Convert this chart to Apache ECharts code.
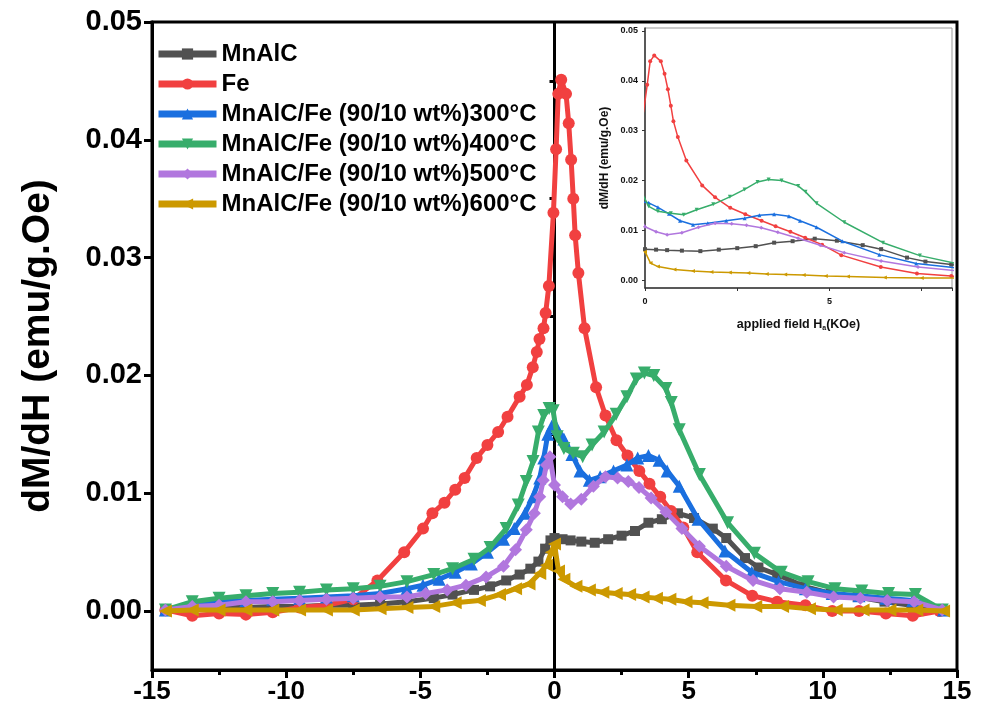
<!DOCTYPE html>
<html><head><meta charset="utf-8">
<script src="https://cdn.jsdelivr.net/npm/echarts@6/dist/echarts.min.js"></script>
<style>html,body{margin:0;padding:0;background:#fff}#c{width:982px;height:718px}</style>
</head><body><div id="c"></div>
<script>
const seriesNames = ['MnAlC', 'Fe', 'MnAlC/Fe (90/10 wt%)300°C', 'MnAlC/Fe (90/10 wt%)400°C', 'MnAlC/Fe (90/10 wt%)500°C', 'MnAlC/Fe (90/10 wt%)600°C'];
const seriesColors = ['#515151', '#F14040', '#1A6FDF', '#37AD6B', '#B177DE', '#CC9900'];

const mnalcX = [-14.5,-13.5,-12.5,-11.5,-10.5,-9.5,-8.5,-7.5,-6.5,-5.5,-4.5,-3.8,-3.0,-2.4,-1.8,-1.3,-0.9,-0.6,-0.35,-0.15,0,0.3,0.6,1.0,1.5,2.0,2.5,3.0,3.5,4.0,4.6,5.2,5.9,6.4,7.1,7.6,8.3,9.3,10.3,11.3,12.3,13.3,14.5];
const mnalcY = [0.0,0.0002,0.0003,0.0003,0.0004,0.0004,0.0005,0.0005,0.0006,0.0008,0.0011,0.0014,0.0018,0.0021,0.0026,0.0031,0.0036,0.0042,0.0053,0.0060,0.0062,0.0061,0.0060,0.0059,0.0058,0.0061,0.0064,0.0068,0.0075,0.0078,0.0083,0.0079,0.0070,0.0062,0.0045,0.0037,0.0031,0.0021,0.0015,0.0012,0.0008,0.0005,0.0];

const feX = [-14.5,-13.5,-12.5,-11.5,-10.5,-9.5,-8.5,-7.5,-6.6,-5.6,-4.9,-4.55,-4.1,-3.7,-3.35,-2.9,-2.5,-2.1,-1.75,-1.3,-1.03,-0.81,-0.66,-0.56,-0.41,-0.33,-0.21,-0.04,0.06,0.14,0.25,0.43,0.53,0.62,0.70,0.77,0.89,1.12,1.55,1.9,2.31,2.72,3.16,3.54,3.94,4.34,4.8,5.32,6.39,7.37,8.3,9.35,10.35,11.35,12.35,13.35,14.35];
const feY = [0.0001,-0.0004,-0.0002,-0.0003,-0.0001,0.0003,0.0005,0.0010,0.0026,0.0050,0.0070,0.0083,0.0092,0.0103,0.0113,0.0130,0.0141,0.0152,0.0165,0.0182,0.0192,0.0207,0.0220,0.0231,0.0240,0.0253,0.0276,0.0338,0.0392,0.0439,0.0451,0.0439,0.0414,0.0383,0.0350,0.0319,0.0287,0.0240,0.0190,0.0166,0.0145,0.0132,0.0119,0.0108,0.0097,0.0085,0.0071,0.0050,0.0026,0.0013,0.0008,0.0005,0.0,0.0,-0.0002,-0.0004,0.0];

const t300X = [-14.5,-13.5,-12.5,-11.5,-10.5,-9.5,-8.5,-7.5,-6.5,-5.5,-4.9,-4.3,-3.7,-3.1,-2.5,-1.9,-1.5,-1.1,-0.8,-0.55,-0.4,-0.25,-0.1,0.1,0.35,0.65,0.95,1.3,1.7,2.2,2.7,3.1,3.5,3.9,4.2,4.65,5.35,6.35,7.35,8.35,9.35,10.35,11.35,12.35,13.35,14.5];
const t300Y = [0.0001,0.0006,0.0008,0.0009,0.0010,0.0011,0.0012,0.0013,0.0015,0.0019,0.0022,0.0027,0.0033,0.0040,0.0050,0.0061,0.0070,0.0083,0.0097,0.0113,0.0130,0.0150,0.0157,0.0155,0.0146,0.0133,0.0119,0.0111,0.0114,0.0119,0.0124,0.0130,0.0132,0.0128,0.0119,0.0106,0.0078,0.0051,0.0033,0.0025,0.0019,0.0015,0.0013,0.0011,0.0009,0.0001];

const t400X = [-14.5,-13.5,-12.5,-11.5,-10.5,-9.5,-8.5,-7.5,-6.5,-5.5,-4.5,-3.8,-3.0,-2.4,-1.8,-1.35,-1.05,-0.8,-0.6,-0.4,-0.2,-0.05,0.1,0.35,0.7,1.05,1.4,1.85,2.3,2.7,3.05,3.35,3.7,4.15,4.35,4.65,5.4,6.45,7.45,8.45,9.45,10.45,11.45,12.45,13.45,14.45];
const t400Y = [0.0001,0.0008,0.0011,0.0013,0.0015,0.0016,0.0018,0.0019,0.0021,0.0025,0.0031,0.0036,0.0044,0.0054,0.0070,0.0090,0.0110,0.0127,0.0152,0.0166,0.0172,0.0170,0.0148,0.0138,0.0134,0.0131,0.0141,0.0152,0.0167,0.0182,0.0197,0.0202,0.0200,0.0189,0.0177,0.0154,0.0116,0.0075,0.0049,0.0033,0.0025,0.0019,0.0017,0.0015,0.0014,0.0001];

const t500X = [-14.5,-13.5,-12.5,-11.5,-10.5,-9.5,-8.5,-7.5,-6.5,-5.5,-4.8,-4.0,-3.3,-2.55,-1.9,-1.45,-1.05,-0.75,-0.55,-0.42,-0.3,-0.17,0.0,0.3,0.6,1.0,1.45,1.9,2.35,2.75,3.15,3.6,4.15,4.75,5.4,6.4,7.4,8.4,9.4,10.4,11.4,12.4,13.4,14.45];
const t500Y = [0.0001,0.0004,0.0005,0.0008,0.0008,0.0009,0.0010,0.0011,0.0012,0.0012,0.0015,0.0018,0.0022,0.0029,0.0038,0.0052,0.0069,0.0083,0.0097,0.0111,0.0124,0.0131,0.0107,0.0097,0.0091,0.0095,0.0106,0.0114,0.0113,0.0110,0.0105,0.0096,0.0084,0.0070,0.0055,0.0038,0.0026,0.0019,0.0016,0.0012,0.0011,0.0009,0.0008,0.0001];

const t600X = [-14.5,-13.5,-12.5,-11.5,-10.5,-9.5,-8.5,-7.5,-6.5,-5.5,-4.5,-3.7,-2.8,-2.05,-1.45,-0.95,-0.55,-0.3,-0.12,0.0,0.15,0.35,0.8,1.3,1.8,2.3,2.8,3.3,3.8,4.3,4.9,5.5,6.5,7.5,8.5,9.5,10.5,11.5,12.5,13.5,14.5];
const t600Y = [0.0,0.0001,0.0001,0.0001,0.0001,0.0001,0.0001,0.0001,0.0002,0.0003,0.0004,0.0007,0.0009,0.0014,0.0019,0.0023,0.0032,0.0039,0.0050,0.0057,0.0034,0.0027,0.0021,0.0018,0.0016,0.0015,0.0014,0.0012,0.0011,0.0010,0.0008,0.0007,0.0005,0.0004,0.0004,0.0002,0.0001,0.0001,0.0001,0.0001,0.0];

const yMajorTicks = [0, 0.01, 0.02, 0.03, 0.04, 0.05];
const yMinorTicks = [-0.005, 0.005, 0.015, 0.025, 0.035, 0.045];
const insetXLabels = [0, 5];

const xsAll = [mnalcX, feX, t300X, t400X, t500X, t600X];
const ysAll = [mnalcY, feY, t300Y, t400Y, t500Y, t600Y];
const symbols = ['rect', 'circle', 'triangle', 'triangle', 'diamond', 'triangle'];
const rotates = [0, 0, 0, 180, 0, 90];
const sizes = [10, 12, 13, 13, 13, 13];

function zip(xs, ys) { return xs.map((x, i) => [x, ys[i]]); }

const FONT = "'Liberation Sans', Arial, sans-serif";
const NARROW = "'Liberation Sans Narrow', 'Liberation Sans', Arial, sans-serif";

const series = [];
seriesNames.forEach((name, i) => {
  const s = {
    name: name, type: 'line', xAxisIndex: 0, yAxisIndex: 0,
    data: zip(xsAll[i], ysAll[i]),
    symbol: symbols[i], symbolRotate: rotates[i], symbolSize: sizes[i],
    showAllSymbol: true,
    lineStyle: { color: seriesColors[i], width: 5 },
    itemStyle: { color: seriesColors[i] },
    emphasis: { disabled: true }, animation: false, z: 3 + i
  };
  if (i === 0) {
    s.markLine = {
      silent: true, symbol: ['none', 'none'], label: { show: false },
      lineStyle: { color: '#000', width: 3, type: 'solid' },
      data: [{ xAxis: 0 }], z: 2
    };
  }
  series.push(s);
});
seriesNames.forEach((name, i) => {
  series.push({
    name: 'inset ' + name, type: 'line', xAxisIndex: 1, yAxisIndex: 2,
    data: zip(xsAll[i], ysAll[i]),
    symbol: symbols[i], symbolRotate: rotates[i], symbolSize: 4,
    showAllSymbol: true, clip: true,
    lineStyle: { color: seriesColors[i], width: 1.5 },
    itemStyle: { color: seriesColors[i] },
    emphasis: { disabled: true }, animation: false, z: 3 + i
  });
});

const option = {
  animation: false,
  backgroundColor: '#fff',
  grid: [
    { left: 152, right: 25, top: 22, bottom: 48, show: true, borderColor: '#000', borderWidth: 3, containLabel: false },
    { left: 645, top: 28, width: 307, height: 260, show: true, backgroundColor: '#fff', borderColor: '#999', borderWidth: 1, containLabel: false }
  ],
  legend: {
    data: seriesNames, orient: 'vertical', left: 155, top: 42, itemGap: 6, padding: 0,
    itemWidth: 58, itemHeight: 14, selectedMode: false,
    lineStyle: { width: 7 },
    textStyle: { fontFamily: FONT, fontWeight: 'bold', fontSize: 24, color: '#000' }
  },
  xAxis: [
    {
      type: 'value', gridIndex: 0, min: -15, max: 15, interval: 5,
      axisLine: { show: true, onZero: false, lineStyle: { color: '#000', width: 3 } },
      axisTick: { show: true, length: 8, lineStyle: { color: '#000', width: 3 } },
      minorTick: { show: true, splitNumber: 2, length: 5, lineStyle: { color: '#000', width: 3 } },
      splitLine: { show: false }, minorSplitLine: { show: false },
      axisLabel: { fontFamily: NARROW, fontWeight: 'bold', fontSize: 26, color: '#000', margin: 9 }
    },
    {
      type: 'value', gridIndex: 1, min: 0, max: 8.32, interval: 2.5,
      axisLine: { show: true, onZero: false, lineStyle: { color: '#333', width: 1.5 } },
      axisTick: { show: true, length: 3, lineStyle: { color: '#333', width: 1 } },
      splitLine: { show: false },
      axisLabel: { fontFamily: FONT, fontWeight: 'bold', fontSize: 9, color: '#111', margin: 9,
        formatter: v => insetXLabels.indexOf(Math.round(v * 100) / 100) >= 0 ? String(v) : '' },
      name: 'applied field H{s|a}(KOe)', nameLocation: 'middle', nameGap: 30,
      nameTextStyle: { fontFamily: FONT, fontWeight: 'bold', fontSize: 12.5, color: '#111',
        rich: { s: { fontFamily: FONT, fontWeight: 'bold', fontSize: 7, color: '#111', verticalAlign: 'bottom', padding: [7, 0, 0, 0] } } }
    }
  ],
  yAxis: [
    {
      type: 'value', gridIndex: 0, min: -0.005, max: 0.05, position: 'left',
      axisLine: { show: true, onZero: false, lineStyle: { color: '#000', width: 3 } },
      axisTick: { show: true, length: 8, customValues: yMajorTicks, lineStyle: { color: '#000', width: 3 } },
      splitLine: { show: false },
      axisLabel: { customValues: yMajorTicks, formatter: v => v.toFixed(2),
        fontFamily: FONT, fontWeight: 'bold', fontSize: 29, color: '#000', margin: 10 },
      name: 'dM/dH (emu/g.Oe)', nameLocation: 'middle', nameGap: 94, nameRotate: 90,
      nameTextStyle: { fontFamily: FONT, fontWeight: 'bold', fontSize: 39, color: '#000' }
    },
    {
      type: 'value', gridIndex: 0, min: -0.005, max: 0.05, position: 'left', offset: 0,
      axisLine: { show: false },
      axisTick: { show: true, length: 5, customValues: yMinorTicks, lineStyle: { color: '#000', width: 3 } },
      axisLabel: { show: false }, splitLine: { show: false }
    },
    {
      type: 'value', gridIndex: 1, min: -0.0016, max: 0.0506, position: 'left',
      axisLine: { show: true, onZero: false, lineStyle: { color: '#333', width: 1.5 } },
      axisTick: { show: true, length: 3, customValues: yMajorTicks, lineStyle: { color: '#333', width: 1 } },
      splitLine: { show: false },
      axisLabel: { customValues: yMajorTicks, formatter: v => v.toFixed(2),
        fontFamily: FONT, fontWeight: 'bold', fontSize: 9, color: '#111', margin: 7 },
      name: 'dM/dH (emu/g.Oe)', nameLocation: 'middle', nameGap: 34, nameRotate: 90,
      nameTextStyle: { fontFamily: FONT, fontWeight: 'bold', fontSize: 12, color: '#111' }
    }
  ],
  series: series
};

const chart = echarts.init(document.getElementById('c'), null, { renderer: 'canvas' });
chart.setOption(option);
</script>
</body></html>
